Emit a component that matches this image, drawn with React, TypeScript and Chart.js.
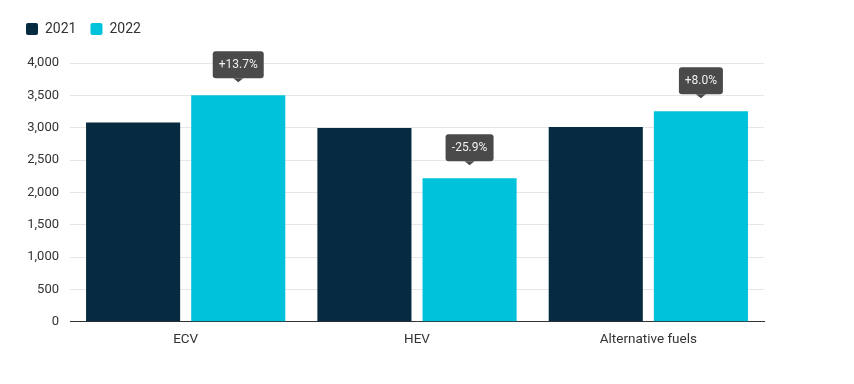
import React, { useEffect, useRef } from 'react';
import { Chart, registerables } from 'chart.js';

Chart.register(...registerables);

const categories = ['ECV', 'HEV', 'Alternative fuels'];
const seriesLabels = ['2021', '2022'];
const values2021 = [3079, 2997, 3012];
const values2022 = [3500, 2219, 3253];
const changeLabels = ['+13.7%', '-25.9%', '+8.0%'];
const yMin = 0;
const yMax = 4000;
const yStep = 500;

const NAVY = '#062a40';
const CYAN = '#00c2da';
const TEXT = '#333333';

const calloutPlugin = {
  id: 'callouts',
  afterDatasetsDraw(chart: any) {
    const meta = chart.getDatasetMeta(1);
    const ctx = chart.ctx as CanvasRenderingContext2D;
    ctx.save();
    ctx.font = '12px Roboto';
    meta.data.forEach((bar: any, i: number) => {
      const text = changeLabels[i];
      const w = Math.round(ctx.measureText(text).width + 12);
      const h = 27;
      const x = bar.x;
      const tipY = bar.y - 13;
      const boxBottom = tipY - 4;
      const boxTop = boxBottom - h;
      ctx.fillStyle = '#4a4a4a';
      ctx.beginPath();
      (ctx as any).roundRect(x - w / 2, boxTop, w, h, 3);
      ctx.fill();
      ctx.beginPath();
      ctx.moveTo(x - 5, boxBottom);
      ctx.lineTo(x + 5, boxBottom);
      ctx.lineTo(x, tipY);
      ctx.closePath();
      ctx.fill();
      ctx.fillStyle = '#f0f0f0';
      ctx.textAlign = 'center';
      ctx.textBaseline = 'middle';
      ctx.fillText(text, x, boxTop + h / 2 + 0.5);
    });
    ctx.restore();
  },
};

const legendHeightPlugin = {
  id: 'legendHeight',
  afterInit(chart: any) {
    const legend = chart.legend;
    if (!legend) return;
    const origFit = legend.fit;
    legend.fit = function () {
      origFit.call(this);
      this.height = 55;
    };
  },
};

export default function App() {
  const canvasRef = useRef<HTMLCanvasElement | null>(null);

  useEffect(() => {
    if (!canvasRef.current) return;
    Chart.defaults.font.family = 'Roboto';
    const chart = new Chart(canvasRef.current, {
      type: 'bar',
      data: {
        labels: categories,
        datasets: [
          { label: seriesLabels[0], data: values2021, backgroundColor: NAVY, borderWidth: 0 },
          { label: seriesLabels[1], data: values2022, backgroundColor: CYAN, borderWidth: 0 },
        ],
      },
      options: {
        responsive: false,
        animation: false,
        layout: { padding: { left: 12, right: 90, top: 8, bottom: 27 } },
        datasets: { bar: { categoryPercentage: 0.909, barPercentage: 0.895 } } as any,
        plugins: {
          legend: {
            position: 'top',
            align: 'start',
            labels: {
              boxWidth: 12,
              boxHeight: 12,
              padding: 14,
              color: TEXT,
              font: { size: 14, family: 'Roboto' },
              useBorderRadius: true,
              borderRadius: 2,
            } as any,
          },
          tooltip: { enabled: false },
        },
        scales: {
          x: {
            grid: { display: false, drawTicks: false },
            border: { display: true, color: '#333333', width: 1 },
            ticks: { color: TEXT, font: { size: 13.5, family: 'Roboto' }, padding: 9.5 },
          },
          y: {
            min: yMin,
            max: yMax,
            afterFit(scale: any) {
              scale.width = 58;
            },
            grid: { color: '#e6e6e6', drawTicks: false, lineWidth: 1 },
            border: { display: false },
            ticks: {
              stepSize: yStep,
              color: TEXT,
              padding: 11,
              font: { size: 13, family: 'Roboto' },
              callback: (v: any) => Number(v).toLocaleString('en-US'),
            },
          },
        },
      },
      plugins: [calloutPlugin, legendHeightPlugin],
    });
    return () => chart.destroy();
  }, []);

  return (
    <div style={{ position: 'fixed', left: 0, top: 0, width: 854, height: 384, background: '#fff' }}>
      <canvas ref={canvasRef} width={854} height={384} style={{ display: 'block' }} />
    </div>
  );
}
